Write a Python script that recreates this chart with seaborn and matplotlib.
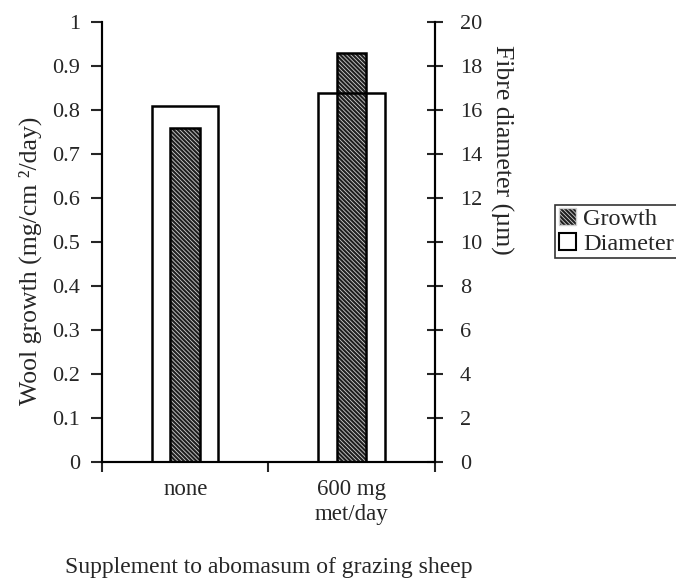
import matplotlib
matplotlib.use("Agg")
import matplotlib.pyplot as plt
import seaborn as sns
import pandas as pd
from matplotlib.patches import Patch

supplements = ["none", "600 mg\nmet/day"]
growth = [0.76, 0.93]      # mg/cm2/day, left axis
diameter = [16.2, 16.8]    # um, right axis

df = pd.DataFrame({"supplement": supplements, "growth": growth, "diameter": diameter})

sns.set_style("ticks")
plt.rcParams["font.family"] = ["Liberation Serif", "DejaVu Serif"]
plt.rcParams["hatch.linewidth"] = 0.6

HATCH = "\\" * 8
DARK = "#1e1e1e"

fig = plt.figure(figsize=(6.76, 5.83), dpi=100)
ax = fig.add_axes([0.151, 0.2076, 0.492, 0.7544])

# growth bars, dark with white hatching
sns.barplot(data=df, x="supplement", y="growth", ax=ax, width=0.18,
            color=DARK, saturation=1, zorder=2)
for p in ax.patches:
    p.set_hatch(HATCH)
    p.set_edgecolor("#d0d0d0")
    p.set_linewidth(0)
sns.barplot(data=df, x="supplement", y="growth", ax=ax, width=0.18,
            facecolor="none", edgecolor="black", linewidth=1.8, zorder=3)

ax2 = ax.twinx()
sns.barplot(data=df, x="supplement", y="diameter", ax=ax2, width=0.4,
            facecolor="none", edgecolor="black", linewidth=1.8)

ax.set_ylim(0, 1)
ax2.set_ylim(0, 20)
ax.set_xlim(-0.5, 1.5)
ax.set_yticks([i / 10 for i in range(11)])
ax.set_yticklabels(["0"] + [f"0.{i}" for i in range(1, 10)] + ["1"])
ax2.set_yticks(range(0, 21, 2))

ax.set_xticks([-0.5, 0.5, 1.5], minor=True)
ax.set_xticks([0, 1])
ax.set_xticklabels(supplements, linespacing=1.3)
ax.tick_params(axis="x", which="major", length=0, labelsize=16.5, pad=12)
ax.tick_params(axis="x", which="minor", length=7, width=1.5, direction="out")
ax.tick_params(axis="y", labelsize=16, length=8, width=1.5, direction="out", pad=8)
ax2.tick_params(axis="y", labelsize=16, length=12, width=1.5, direction="inout", pad=12)

for a in (ax, ax2):
    a.spines["top"].set_visible(False)
    for s in ("left", "right", "bottom"):
        a.spines[s].set_linewidth(1.5)
        a.spines[s].set_color("black")

ax.set_xlabel("Supplement to abomasum of grazing sheep", fontsize=17, labelpad=23)
ax.set_ylabel("Wool growth (mg/cm \u00b2/day)", fontsize=18.5)
ax.yaxis.set_label_coords(-0.18, 0.457)
ax2.set_ylabel("Fibre diameter (\u00b5m)", fontsize=18.5, rotation=270, va="center")
ax2.yaxis.set_label_coords(1.2, 0.709)

handles = [Patch(facecolor=DARK, edgecolor="#d0d0d0", hatch=HATCH, label="Growth"),
           Patch(facecolor="white", edgecolor="black", linewidth=1.5, label="Diameter")]
leg = fig.legend(handles=handles, loc="upper left", bbox_to_anchor=(0.821, 0.649),
                 fontsize=17.5, frameon=True, fancybox=False, edgecolor="black",
                 handlelength=0.7, handleheight=0.7, handletextpad=0.3,
                 borderpad=0.15, labelspacing=0.1, borderaxespad=0)
leg.get_frame().set_linewidth(1.2)

fig.savefig("out.png", dpi=100)
